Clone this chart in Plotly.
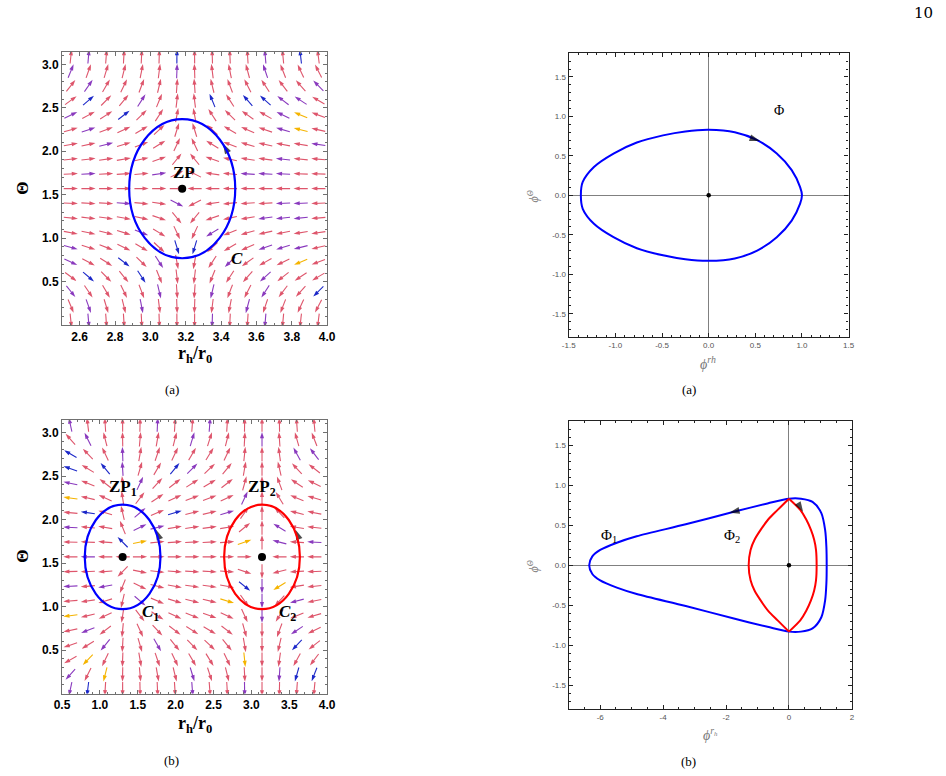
import math
import plotly.graph_objects as go

W, H = 946, 776

# ------------------------------------------------------------------ data
# (a) left: vector field grid
tl_cols = [2.55, 2.65, 2.75, 2.85, 2.95, 3.05, 3.15, 3.25, 3.35, 3.45, 3.55, 3.65, 3.75, 3.85, 3.95]
tl_u = [1.15, 1.0, 0.85, 0.7, 0.55, 0.35, 0.1, -0.1, -0.35, -0.55, -0.75, -0.95, -1.1, -1.3, -1.45]
# (b) left: vector field grid
bl_cols = [0.61, 0.84, 1.07, 1.30, 1.53, 1.76, 1.99, 2.22, 2.45, 2.68, 2.91, 3.14, 3.37, 3.60, 3.83]
bl_u = [-2.5, -1.4, -0.7, -0.05, 0.25, 0.5, 0.7, 0.85, 0.9, 0.7, 0.15, 0.0, -0.2, -0.8, -1.1]
# rows (theta), shared by both fields, top to bottom, with vertical components
field_rows = [3.092, 2.923, 2.754, 2.585, 2.416, 2.247, 2.078, 1.909, 1.740, 1.571,
              1.402, 1.233, 1.064, 0.895, 0.726, 0.557, 0.388, 0.219, 0.050]
row_v = [11.4, 2.75, 1.43, 0.84, 0.53, 0.32, 0.21, 0.12, 0.05, 0.0,
         -0.05, -0.12, -0.21, -0.32, -0.53, -0.84, -1.43, -2.75, -11.4]
# arrow colours per row (r red, p purple, b blue, y yellow)
tl_colors = [
    "rprrrrbrrrrprbr",
    "prrrrrprrrrprrr",
    "rprrrrrrrrrrrrp",
    "rbrrprrrbrbbppr",
    "prrbrrrrrrrrpyr",
    "rprrrrrrrrrrpyr",
    "rrprrrrrrrrrrrp",
    "rrrrrrrrrrrrprr",
    "rprrrprrrrppprr",
    "rrrrrrrrrrrrrrr",
    "rrrprrprrrrrppr",
    "rrrrrrrrrrrpppr",
    "rrrrprrrprrrrrr",
    "prrrrrbbrrrpppr",
    "prrbrprrrprrryr",
    "rbrrbrrrrrrprrr",
    "prrrrprrprrprrb",
    "rprrprrrrrprrrr",
    "rprrrrrrprrprrr",
]
bl_colors = [
    "prrrrprrprrrrrr",
    "rprrrrrprrrprrr",
    "brrprrrrrrrrrpp",
    "brbprrbprrrrrrr",
    "prrrprrrrrrrrrr",
    "yrrrrrrrrrprrrr",
    "rbrrprbrrprrrrr",
    "prrrpprrrrrrprr",
    "rrrbyrrrrryrprp",
    "rprrrrrrrrrrrrr",
    "rrrrrrrrrrrrrrr",
    "prprrrrrrrbpyrr",
    "rrrrprrrryrprpr",
    "yrrrrrrrrrrprrr",
    "rprrrrrrrrrrrpr",
    "rrprrprrrrrrrbr",
    "ryrrrrrrrryrrrr",
    "pryrrrrprrrrpbb",
    "pbrrrrrprrprrrr",
]
palette = {"r": "rgb(222,86,108)", "p": "rgb(138,58,190)", "b": "rgb(28,40,200)", "y": "rgb(245,180,0)"}

# contours (center x, center y, semi-axis x, semi-axis y)
tl_contour = (3.18, 1.57, 0.30, 0.80)
bl_contours = [(1.30, 1.57, 0.50, 0.60), (3.14, 1.57, 0.50, 0.60)]
tl_zp = (3.18, 1.57)
bl_zp = [(1.30, 1.57), (3.14, 1.57)]

# (a) right: Phi curve
tr_x = [1.0, 0.98, 0.89, 0.73, 0.52, 0.28, 0.0, -0.25, -0.49, -0.77, -1.02, -1.23, -1.35, -1.37,
        -1.35, -1.23, -1.02, -0.77, -0.49, -0.25, 0.0, 0.28, 0.52, 0.73, 0.89, 0.98, 1.0]
tr_y = [0.0, 0.105, 0.32, 0.53, 0.70, 0.80, 0.83, 0.81, 0.76, 0.67, 0.53, 0.36, 0.17, 0.0,
        -0.17, -0.36, -0.53, -0.67, -0.76, -0.81, -0.83, -0.80, -0.70, -0.53, -0.32, -0.105, 0.0]
# (b) right: Phi1 (blue)
br1_x = [1.2, 1.19, 1.15, 1.03, 0.75, 0.38, 0.0, -0.68, -1.72, -3.28, -4.84, -5.47, -6.0, -6.25, -6.35,
         -6.25, -6.0, -5.47, -4.84, -3.28, -1.72, -0.68, 0.0, 0.38, 0.75, 1.03, 1.15, 1.19, 1.2]
br1_y = [0.0, 0.23, 0.44, 0.65, 0.79, 0.83, 0.83, 0.77, 0.67, 0.51, 0.36, 0.28, 0.19, 0.11, 0.0,
         -0.11, -0.19, -0.28, -0.36, -0.51, -0.67, -0.77, -0.83, -0.83, -0.79, -0.65, -0.44, -0.23, 0.0]
# (b) right: Phi2 (red), right and left halves (top vertex to bottom vertex)
br2r_x = [0.0, 0.36, 0.55, 0.70, 0.80, 0.86, 0.88, 0.86, 0.80, 0.70, 0.55, 0.36, 0.0]
br2r_y = [0.83, 0.69, 0.57, 0.44, 0.32, 0.19, 0.0, -0.19, -0.32, -0.44, -0.57, -0.69, -0.83]
br2l_x = [0.0, -0.36, -0.66, -0.90, -1.09, -1.22, -1.28, -1.22, -1.09, -0.90, -0.66, -0.36, 0.0]
br2l_y = [0.83, 0.69, 0.57, 0.44, 0.32, 0.19, 0.0, -0.19, -0.32, -0.44, -0.57, -0.69, -0.83]

# direction arrows on curves: (tail x, tail y, tip x, tip y)
tl_dir = [(3.44, 1.98, 3.41, 2.09)]
bl_dir = [(1.76, 1.84, 1.74, 1.884), (3.60, 1.84, 3.58, 1.884)]
tr_dir = [(0.42, 0.74, 0.55, 0.69)]
br_dir = [(-1.4, 0.70, -1.9, 0.655), (0.33, 0.745, 0.45, 0.665)]

# ------------------------------------------------------------------ layout geometry (pixels)
panels = {
    "tl": dict(x0=55, x1=325, y0=52.0, y1=325.2, xr=[2.5, 4.0], yr=[0, math.pi]),
    "tr": dict(x0=571, x1=856, y0=53.3, y1=337.4, xr=[-1.5, 1.5], yr=[-1.8, 1.8]),
    "bl": dict(x0=55, x1=325, y0=420.2, y1=693.5, xr=[0.5, 4.0], yr=[0, math.pi]),
    "br": dict(x0=571, x1=859.3, y0=421.0, y1=709.3, xr=[-7, 2], yr=[-1.8, 1.8]),
}
axis_ids = {"tl": ("x", "y"), "tr": ("x2", "y2"), "bl": ("x3", "y3"), "br": ("x4", "y4")}


def scale(p):
    P = panels[p]
    sx = (P["x1"] - P["x0"]) / (P["xr"][1] - P["xr"][0])
    sy = (P["y1"] - P["y0"]) / (P["yr"][1] - P["yr"][0])
    return sx, sy


fig = go.Figure()


def add_field(p, cols, u, rows, v, colors, L=14.5):
    xa, ya = axis_ids[p]
    sx, sy = scale(p)
    shafts = {k: ([], []) for k in palette}
    hx, hy, ha, hc = [], [], [], []
    for j, yy in enumerate(rows):
        for i, xx in enumerate(cols):
            uu, vv = u[i], v[j]
            n = math.hypot(uu, vv)
            if n == 0:
                continue
            dxp, dyp = uu / n * L, vv / n * L
            c = colors[j][i]
            tx, ty = xx - dxp / 2 / sx, yy - dyp / 2 / sy
            hx_, hy_ = xx + dxp / 2 / sx, yy + dyp / 2 / sy
            f = (L / 2 - 3.0) / (L / 2)
            ex, ey = xx + f * dxp / 2 / sx, yy + f * dyp / 2 / sy
            shafts[c][0].extend([tx, ex, None])
            shafts[c][1].extend([ty, ey, None])
            hx.append(hx_); hy.append(hy_)
            ha.append(math.degrees(math.atan2(dxp, dyp)))
            hc.append(palette[c])
    for k, (xs, ys) in shafts.items():
        if xs:
            fig.add_trace(go.Scatter(x=xs, y=ys, mode="lines", xaxis=xa, yaxis=ya,
                                     line=dict(color=palette[k], width=1.1),
                                     hoverinfo="skip", showlegend=False))
    fig.add_trace(go.Scatter(x=hx, y=hy, mode="markers", xaxis=xa, yaxis=ya,
                             marker=dict(symbol="arrow", size=6.5, angle=ha, color=hc,
                                         line=dict(width=0)),
                             hoverinfo="skip", showlegend=False))


def add_dir_arrows(p, arrows, size=11):
    xa, ya = axis_ids[p]
    for (x0, y0, x1, y1) in arrows:
        fig.add_trace(go.Scatter(x=[x0, x1], y=[y0, y1], mode="markers", xaxis=xa, yaxis=ya,
                                 marker=dict(symbol="arrow", size=[0, size], angleref="previous",
                                             color="black", line=dict(width=0)),
                                 hoverinfo="skip", showlegend=False))


add_field("tl", tl_cols, tl_u, field_rows, row_v, tl_colors)
add_field("bl", bl_cols, bl_u, field_rows, row_v, bl_colors)

# contours as ellipses
shapes = []
for (cx, cy, a, b), col, (xa, ya) in [(tl_contour, "rgb(0,0,255)", ("x", "y")),
                                      (bl_contours[0], "rgb(0,0,255)", ("x3", "y3")),
                                      (bl_contours[1], "rgb(255,0,0)", ("x3", "y3"))]:
    shapes.append(dict(type="circle", xref=xa, yref=ya, x0=cx - a, x1=cx + a, y0=cy - b, y1=cy + b,
                       line=dict(color=col, width=2.2), layer="above"))

add_dir_arrows("tl", tl_dir, 11)
add_dir_arrows("bl", bl_dir, 11)

# zero points
fig.add_trace(go.Scatter(x=[tl_zp[0]], y=[tl_zp[1]], mode="markers", xaxis="x", yaxis="y",
                         marker=dict(color="black", size=8), hoverinfo="skip", showlegend=False))
fig.add_trace(go.Scatter(x=[z[0] for z in bl_zp], y=[z[1] for z in bl_zp], mode="markers",
                         xaxis="x3", yaxis="y3", marker=dict(color="black", size=8),
                         hoverinfo="skip", showlegend=False))

# right curves
spl = dict(width=2, shape="spline", smoothing=0.8)
fig.add_trace(go.Scatter(x=tr_x, y=tr_y, mode="lines", xaxis="x2", yaxis="y2",
                         line=dict(color="rgb(0,0,255)", **spl), hoverinfo="skip", showlegend=False))
fig.add_trace(go.Scatter(x=br1_x, y=br1_y, mode="lines", xaxis="x4", yaxis="y4",
                         line=dict(color="rgb(0,0,255)", **spl), hoverinfo="skip", showlegend=False))
for xs, ys in [(br2r_x, br2r_y), (br2l_x, br2l_y)]:
    fig.add_trace(go.Scatter(x=xs, y=ys, mode="lines", xaxis="x4", yaxis="y4",
                             line=dict(color="rgb(255,0,0)", **spl), hoverinfo="skip", showlegend=False))
add_dir_arrows("tr", tr_dir, 11)
add_dir_arrows("br", br_dir, 11)
for xa, ya in [("x2", "y2"), ("x4", "y4")]:
    fig.add_trace(go.Scatter(x=[0], y=[0], mode="markers", xaxis=xa, yaxis=ya,
                             marker=dict(color="black", size=4.5), hoverinfo="skip", showlegend=False))


# ------------------------------------------------------------------ axes
def dom(p):
    P = panels[p]
    return [P["x0"] / W, P["x1"] / W], [1 - P["y1"] / H, 1 - P["y0"] / H]


left_tick_font = dict(family="Liberation Sans", size=12, color="black", weight="bold")
right_tick_font = dict(family="Liberation Sans", size=8, color="#555555")


def left_axes(p, xticks, xminor):
    xd, yd = dom(p)
    xa, ya = axis_ids[p]
    P = panels[p]
    xk = "xaxis" if xa == "x" else "xaxis" + xa[1:]
    yk = "yaxis" if ya == "y" else "yaxis" + ya[1:]
    common = dict(showgrid=False, zeroline=False, showline=True, linecolor="#707070", linewidth=1,
                  mirror="allticks", ticks="inside", ticklen=4, tickcolor="#707070",
                  tickfont=left_tick_font)
    return {
        xk: dict(domain=xd, range=P["xr"], anchor=ya, tickvals=xticks,
                 ticktext=[f"{t:.1f}" for t in xticks],
                 minor=dict(ticks="inside", dtick=xminor, tick0=0, ticklen=2, tickcolor="#707070"),
                 **common),
        yk: dict(domain=yd, range=P["yr"], anchor=xa, tickvals=[0.5, 1.0, 1.5, 2.0, 2.5, 3.0],
                 ticktext=["0.5", "1.0", "1.5", "2.0", "2.5", "3.0"],
                 minor=dict(ticks="inside", dtick=0.1, tick0=0, ticklen=2, tickcolor="#707070"),
                 **common),
    }


def right_axes(p, xticks, xtext, xminor):
    xd, yd = dom(p)
    xa, ya = axis_ids[p]
    P = panels[p]
    xk = "xaxis" + xa[1:]
    yk = "yaxis" + ya[1:]
    common = dict(showgrid=False, zeroline=True, zerolinecolor="#808080", zerolinewidth=1,
                  showline=True, linecolor="#222222", linewidth=1.3,
                  mirror="allticks", ticks="inside", ticklen=4, tickcolor="#222222",
                  tickfont=right_tick_font)
    return {
        xk: dict(domain=xd, range=P["xr"], anchor=ya, tickvals=xticks, ticktext=xtext,
                 minor=dict(ticks="inside", dtick=xminor, tick0=0, ticklen=2, tickcolor="#222222"),
                 **common),
        yk: dict(domain=yd, range=P["yr"], anchor=xa,
                 tickvals=[-1.5, -1.0, -0.5, 0.0, 0.5, 1.0, 1.5],
                 ticktext=["-1.5", "-1.0", "-0.5", "0.0", "0.5", "1.0", "1.5"],
                 minor=dict(ticks="inside", dtick=0.1, tick0=0, ticklen=2, tickcolor="#222222"),
                 **common),
    }


layout_axes = {}
layout_axes.update(left_axes("tl", [2.6, 2.8, 3.0, 3.2, 3.4, 3.6, 3.8, 4.0], 0.05))
layout_axes.update(left_axes("bl", [0.5, 1.0, 1.5, 2.0, 2.5, 3.0, 3.5, 4.0], 0.1))
layout_axes.update(right_axes("tr", [-1.5, -1.0, -0.5, 0.0, 0.5, 1.0, 1.5],
                              ["-1.5", "-1.0", "-0.5", "0.0", "0.5", "1.0", "1.5"], 0.1))
layout_axes.update(right_axes("br", [-6, -4, -2, 0, 2], ["-6", "-4", "-2", "0", "2"], 0.5))

# ------------------------------------------------------------------ text
serif = "Liberation Serif"
ann = []


def pa(x, y, text, size=13, color="black", family=serif, angle=0, **kw):
    ann.append(dict(x=x / W, y=1 - y / H, xref="paper", yref="paper", text=text, showarrow=False,
                    font=dict(family=family, size=size, color=color), textangle=angle,
                    xanchor="center", yanchor="middle", **kw))


def da(xa, ya, x, y, text, size=17):
    ann.append(dict(x=x, y=y, xref=xa, yref=ya, text=text, showarrow=False,
                    font=dict(family=serif, size=size, color="black"),
                    xanchor="center", yanchor="middle"))


pa(932, 13, "10", size=15, family="DejaVu Serif")
# left axis titles
for yy in (355, 724):
    pa(190, yy, "<b>r<sub>h</sub>/r<sub>0</sub></b>", size=18)
for yy in (188, 556):
    pa(14, yy, "<b>Θ</b>", size=17, angle=-90)
# captions
pa(167, 389, "(a)", size=13)
pa(693, 389, "(a)", size=13)
pa(167, 760, "(b)", size=13)
pa(693, 761, "(b)", size=13)
# right axis titles
pa(713, 363, "<i>ϕ<sup>rh</sup></i>", size=14, color="#777777")
pa(715, 734, "<i>ϕ<sup>r<sub>h</sub></sup></i>", size=14, color="#777777")
pa(535, 196, "<i>ϕ<sup>Θ</sup></i>", size=12, color="#777777", angle=-90)
pa(535, 566, "<i>ϕ<sup>Θ</sup></i>", size=12, color="#777777", angle=-90)

da("x", "y", 3.19, 1.76, "<b>ZP</b>")
da("x", "y", 3.49, 0.77, "<b><i>C</i></b>")
da("x3", "y3", 1.30, 2.36, "<b>ZP<sub>1</sub></b>")
da("x3", "y3", 3.14, 2.36, "<b>ZP<sub>2</sub></b>")
da("x3", "y3", 1.67, 0.92, "<b><i>C</i><sub>1</sub></b>")
da("x3", "y3", 3.48, 0.92, "<b><i>C</i><sub>2</sub></b>")
da("x2", "y2", 0.75, 1.07, "Φ", size=14)
da("x4", "y4", -5.73, 0.36, "Φ<sub>1</sub>", size=15)
da("x4", "y4", -1.80, 0.36, "Φ<sub>2</sub>", size=15)

fig.update_layout(width=W, height=H, margin=dict(l=0, r=0, t=0, b=0),
                  paper_bgcolor="white", plot_bgcolor="white", showlegend=False,
                  shapes=shapes, annotations=ann, **layout_axes)
fig.write_html("out.html")
